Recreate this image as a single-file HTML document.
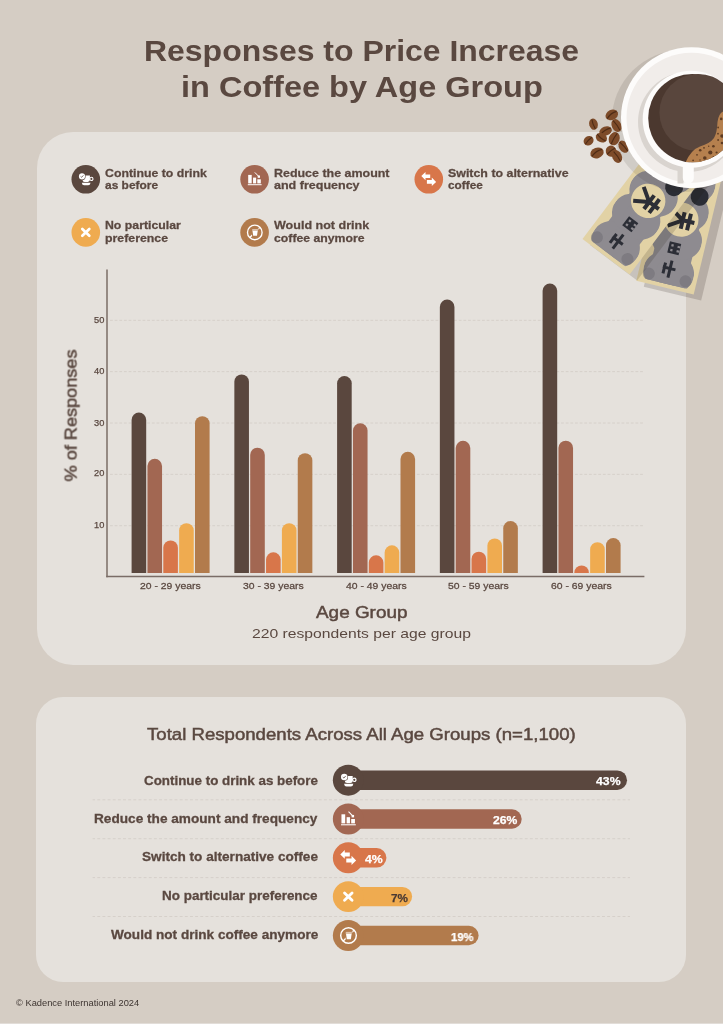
<!DOCTYPE html>
<html><head><meta charset="utf-8"><style>
html,body{margin:0;padding:0;}
body{width:723px;height:1024px;position:relative;overflow:hidden;background:#d5cdc4;font-family:"Liberation Sans",sans-serif;}
.card{position:absolute;background:#e5e1dc;}
.t{position:absolute;white-space:nowrap;line-height:1;transform-origin:0 0;will-change:transform;}
svg{position:absolute;left:0;top:0;}
</style></head><body>
<div class="card" style="left:37px;top:132px;width:649px;height:533px;border-radius:36px;"></div>
<div class="card" style="left:36px;top:697px;width:649.5px;height:285px;border-radius:27px;"></div>
<div style="position:absolute;left:0;top:1023px;width:723px;height:1px;background:#e2ddd8;"></div>
<svg width="723" height="1024" viewBox="0 0 723 1024">
<line x1="110" y1="320.30" x2="644" y2="320.30" stroke="#d6d0ca" stroke-width="1" stroke-dasharray="2.8 1.85"/>
<line x1="110" y1="371.65" x2="644" y2="371.65" stroke="#d6d0ca" stroke-width="1" stroke-dasharray="2.8 1.85"/>
<line x1="110" y1="423.00" x2="644" y2="423.00" stroke="#d6d0ca" stroke-width="1" stroke-dasharray="2.8 1.85"/>
<line x1="110" y1="474.35" x2="644" y2="474.35" stroke="#d6d0ca" stroke-width="1" stroke-dasharray="2.8 1.85"/>
<line x1="110" y1="525.70" x2="644" y2="525.70" stroke="#d6d0ca" stroke-width="1" stroke-dasharray="2.8 1.85"/>
<path d="M131.60,573.1 V419.90 A7.3,7.3 0 0 1 146.20,419.90 V573.1 Z" fill="#5a473e"/>
<path d="M147.45,573.1 V466.10 A7.3,7.3 0 0 1 162.05,466.10 V573.1 Z" fill="#a26752"/>
<path d="M163.30,573.1 V547.70 A7.3,7.3 0 0 1 177.90,547.70 V573.1 Z" fill="#d8764a"/>
<path d="M179.15,573.1 V530.50 A7.3,7.3 0 0 1 193.75,530.50 V573.1 Z" fill="#efab50"/>
<path d="M195.00,573.1 V423.50 A7.3,7.3 0 0 1 209.60,423.50 V573.1 Z" fill="#b27b4c"/>
<path d="M234.35,573.1 V381.70 A7.3,7.3 0 0 1 248.95,381.70 V573.1 Z" fill="#5a473e"/>
<path d="M250.20,573.1 V455.00 A7.3,7.3 0 0 1 264.80,455.00 V573.1 Z" fill="#a26752"/>
<path d="M266.05,573.1 V559.60 A7.3,7.3 0 0 1 280.65,559.60 V573.1 Z" fill="#d8764a"/>
<path d="M281.90,573.1 V530.50 A7.3,7.3 0 0 1 296.50,530.50 V573.1 Z" fill="#efab50"/>
<path d="M297.75,573.1 V460.50 A7.3,7.3 0 0 1 312.35,460.50 V573.1 Z" fill="#b27b4c"/>
<path d="M337.10,573.1 V383.30 A7.3,7.3 0 0 1 351.70,383.30 V573.1 Z" fill="#5a473e"/>
<path d="M352.95,573.1 V430.60 A7.3,7.3 0 0 1 367.55,430.60 V573.1 Z" fill="#a26752"/>
<path d="M368.80,573.1 V562.60 A7.3,7.3 0 0 1 383.40,562.60 V573.1 Z" fill="#d8764a"/>
<path d="M384.65,573.1 V552.60 A7.3,7.3 0 0 1 399.25,552.60 V573.1 Z" fill="#efab50"/>
<path d="M400.50,573.1 V459.10 A7.3,7.3 0 0 1 415.10,459.10 V573.1 Z" fill="#b27b4c"/>
<path d="M439.85,573.1 V306.90 A7.3,7.3 0 0 1 454.45,306.90 V573.1 Z" fill="#5a473e"/>
<path d="M455.70,573.1 V448.10 A7.3,7.3 0 0 1 470.30,448.10 V573.1 Z" fill="#a26752"/>
<path d="M471.55,573.1 V559.00 A7.3,7.3 0 0 1 486.15,559.00 V573.1 Z" fill="#d8764a"/>
<path d="M487.40,573.1 V545.70 A7.3,7.3 0 0 1 502.00,545.70 V573.1 Z" fill="#efab50"/>
<path d="M503.25,573.1 V528.30 A7.3,7.3 0 0 1 517.85,528.30 V573.1 Z" fill="#b27b4c"/>
<path d="M542.60,573.1 V290.80 A7.3,7.3 0 0 1 557.20,290.80 V573.1 Z" fill="#5a473e"/>
<path d="M558.45,573.1 V448.00 A7.3,7.3 0 0 1 573.05,448.00 V573.1 Z" fill="#a26752"/>
<path d="M574.30,573.1 V572.70 A7.3,7.3 0 0 1 588.90,572.70 V573.1 Z" fill="#d8764a"/>
<path d="M590.15,573.1 V549.50 A7.3,7.3 0 0 1 604.75,549.50 V573.1 Z" fill="#efab50"/>
<path d="M606.00,573.1 V545.30 A7.3,7.3 0 0 1 620.60,545.30 V573.1 Z" fill="#b27b4c"/>
<line x1="107" y1="269.5" x2="107" y2="577.3" stroke="#7a6c66" stroke-width="1.5"/>
<line x1="106.25" y1="576.6" x2="644.4" y2="576.6" stroke="#7a6c66" stroke-width="1.5"/>
<circle cx="85.8" cy="179.3" r="14.3" fill="#5a473e"/>
<g transform="translate(85.8,179.3)"><g fill="#fff"><path d="M-3.3,-3.9 H4.1 V0.5 A2.2,2.2 0 0 1 1.9,2.6 H-1.1 A2.2,2.2 0 0 1 -3.3,0.4 Z"/><circle cx="5.6" cy="-0.4" r="1.6" fill="none" stroke="#fff" stroke-width="1.1"/><path d="M-4,3.4 H4.7 Q4.4,6 2.4,6 H-1.7 Q-3.7,6 -4,3.4 Z"/></g><circle cx="-3.8" cy="-2.9" r="3.6" fill="#5a473e"/><circle cx="-3.8" cy="-2.9" r="3.05" fill="#fff"/><path d="M-5.2,-2.9 L-4.1,-2 L-2.4,-4" fill="none" stroke="#5a473e" stroke-width="0.75"/></g>
<circle cx="254.6" cy="179.3" r="14.3" fill="#a26752"/>
<g transform="translate(254.6,179.3)"><g fill="#fff"><rect x="-6.4" y="-4.4" width="3.5" height="8.5"/><rect x="-1.55" y="-1.7" width="3.1" height="5.8"/><rect x="2.7" y="0" width="3.5" height="4.1"/><rect x="-6.8" y="4.9" width="13.8" height="1"/><rect x="3.1" y="-3.8" width="2.3" height="2.3"/></g><path d="M0.2,-6.9 L4.3,-2.7" stroke="#fff" stroke-width="1"/></g>
<circle cx="428.8" cy="179.3" r="14.3" fill="#d8764a"/>
<g transform="translate(428.8,179.3)"><g fill="#fff"><path d="M-7.5,-3.2 L-3.3,-7.2 V-4.9 H1.4 V-1.2 H-3.3 V0.9 Z"/><path d="M7.3,2.6 L3,-1.8 V0.6 H-1.9 V4.5 H3 V6.8 Z"/></g></g>
<circle cx="85.8" cy="232.4" r="14.3" fill="#efab50"/>
<g transform="translate(85.8,232.4)"><path d="M-3.5,-3.4 L3.5,3.4 M3.5,-3.4 L-3.5,3.4" stroke="#fff" stroke-width="2.7" stroke-linecap="round"/></g>
<circle cx="254.6" cy="232.4" r="14.3" fill="#b27b4c"/>
<g transform="translate(254.6,232.4)"><circle cx="0.2" cy="0" r="7.3" fill="none" stroke="#fff" stroke-width="1.35"/><path d="M-5,5.3 L5.3,-5" stroke="#fff" stroke-width="1.3"/><path d="M-2.6,-3.5 H3.4 V-1.2 L2.7,3.6 H-1.8 L-2.6,-1.2 Z" fill="#b27b4c" stroke="#b27b4c" stroke-width="1.1"/><path d="M-2.4,-3.4 H3.3 V-1.4 H-2.4 Z" fill="#fff" opacity="0.55"/><path d="M-2.1,-1.4 H3.1 L2.4,3.4 H-1.4 Z" fill="#fff"/></g>
<line x1="92.6" y1="799.80" x2="630" y2="799.80" stroke="#d6d0ca" stroke-width="1" stroke-dasharray="2.9 2.25" stroke-dashoffset="-4.7"/>
<line x1="92.6" y1="838.70" x2="630" y2="838.70" stroke="#d6d0ca" stroke-width="1" stroke-dasharray="2.9 2.25" stroke-dashoffset="-4.7"/>
<line x1="92.6" y1="877.60" x2="630" y2="877.60" stroke="#d6d0ca" stroke-width="1" stroke-dasharray="2.9 2.25" stroke-dashoffset="-4.7"/>
<line x1="92.6" y1="916.50" x2="630" y2="916.50" stroke="#d6d0ca" stroke-width="1" stroke-dasharray="2.9 2.25" stroke-dashoffset="-4.7"/>
<rect x="348" y="770.50" width="279.00" height="19.4" rx="9.7" fill="#5a473e"/>
<circle cx="348.3" cy="780.2" r="15.45" fill="#5a473e"/>
<g transform="translate(348.3,780.2) scale(1.07)"><g fill="#fff"><path d="M-3.3,-3.9 H4.1 V0.5 A2.2,2.2 0 0 1 1.9,2.6 H-1.1 A2.2,2.2 0 0 1 -3.3,0.4 Z"/><circle cx="5.6" cy="-0.4" r="1.6" fill="none" stroke="#fff" stroke-width="1.1"/><path d="M-4,3.4 H4.7 Q4.4,6 2.4,6 H-1.7 Q-3.7,6 -4,3.4 Z"/></g><circle cx="-3.8" cy="-2.9" r="3.6" fill="#5a473e"/><circle cx="-3.8" cy="-2.9" r="3.05" fill="#fff"/><path d="M-5.2,-2.9 L-4.1,-2 L-2.4,-4" fill="none" stroke="#5a473e" stroke-width="0.75"/></g>
<rect x="348" y="809.30" width="173.70" height="19.4" rx="9.7" fill="#a26752"/>
<circle cx="348.3" cy="819" r="15.45" fill="#a26752"/>
<g transform="translate(348.3,819) scale(1.07)"><g fill="#fff"><rect x="-6.4" y="-4.4" width="3.5" height="8.5"/><rect x="-1.55" y="-1.7" width="3.1" height="5.8"/><rect x="2.7" y="0" width="3.5" height="4.1"/><rect x="-6.8" y="4.9" width="13.8" height="1"/><rect x="3.1" y="-3.8" width="2.3" height="2.3"/></g><path d="M0.2,-6.9 L4.3,-2.7" stroke="#fff" stroke-width="1"/></g>
<rect x="348" y="848.10" width="38.40" height="19.4" rx="9.7" fill="#d8764a"/>
<circle cx="348.3" cy="857.8" r="15.45" fill="#d8764a"/>
<g transform="translate(348.3,857.8) scale(1.07)"><g fill="#fff"><path d="M-7.5,-3.2 L-3.3,-7.2 V-4.9 H1.4 V-1.2 H-3.3 V0.9 Z"/><path d="M7.3,2.6 L3,-1.8 V0.6 H-1.9 V4.5 H3 V6.8 Z"/></g></g>
<rect x="348" y="886.90" width="64.10" height="19.4" rx="9.7" fill="#efab50"/>
<circle cx="348.3" cy="896.6" r="15.45" fill="#efab50"/>
<g transform="translate(348.3,896.6) scale(1.07)"><path d="M-3.5,-3.4 L3.5,3.4 M3.5,-3.4 L-3.5,3.4" stroke="#fff" stroke-width="2.7" stroke-linecap="round"/></g>
<rect x="348" y="925.80" width="130.60" height="19.4" rx="9.7" fill="#b27b4c"/>
<circle cx="348.3" cy="935.5" r="15.45" fill="#b27b4c"/>
<g transform="translate(348.3,935.5) scale(1.07)"><circle cx="0.2" cy="0" r="7.3" fill="none" stroke="#fff" stroke-width="1.35"/><path d="M-5,5.3 L5.3,-5" stroke="#fff" stroke-width="1.3"/><path d="M-2.6,-3.5 H3.4 V-1.2 L2.7,3.6 H-1.8 L-2.6,-1.2 Z" fill="#b27b4c" stroke="#b27b4c" stroke-width="1.1"/><path d="M-2.4,-3.4 H3.3 V-1.4 H-2.4 Z" fill="#fff" opacity="0.55"/><path d="M-2.1,-1.4 H3.1 L2.4,3.4 H-1.4 Z" fill="#fff"/></g>
</svg>
<div class="t" style="left:143.63px;top:36.12px;font-size:29.5px;color:#5a4840;transform:scaleX(1.0832);font-weight:700;-webkit-text-stroke:0.00px #5a4840;">Responses to Price Increase</div>
<div class="t" style="left:180.70px;top:71.52px;font-size:29.5px;color:#5a4840;transform:scaleX(1.1018);font-weight:700;-webkit-text-stroke:0.00px #5a4840;">in Coffee by Age Group</div>
<div class="t" style="left:105.30px;top:166.59px;font-size:11.7px;color:#5a4840;transform:scaleX(1.0515);font-weight:700;-webkit-text-stroke:0.26px #5a4840;">Continue to drink</div>
<div class="t" style="left:105.30px;top:178.89px;font-size:11.7px;color:#5a4840;transform:scaleX(1.0212);font-weight:700;-webkit-text-stroke:0.26px #5a4840;">as before</div>
<div class="t" style="left:274.30px;top:166.59px;font-size:11.7px;color:#5a4840;transform:scaleX(1.0651);font-weight:700;-webkit-text-stroke:0.26px #5a4840;">Reduce the amount</div>
<div class="t" style="left:274.30px;top:178.89px;font-size:11.7px;color:#5a4840;transform:scaleX(1.0712);font-weight:700;-webkit-text-stroke:0.26px #5a4840;">and frequency</div>
<div class="t" style="left:448.40px;top:166.59px;font-size:11.7px;color:#5a4840;transform:scaleX(1.0605);font-weight:700;-webkit-text-stroke:0.26px #5a4840;">Switch to alternative</div>
<div class="t" style="left:448.40px;top:178.89px;font-size:11.7px;color:#5a4840;transform:scaleX(1.0114);font-weight:700;-webkit-text-stroke:0.26px #5a4840;">coffee</div>
<div class="t" style="left:105.00px;top:219.39px;font-size:11.7px;color:#5a4840;transform:scaleX(1.0514);font-weight:700;-webkit-text-stroke:0.26px #5a4840;">No particular</div>
<div class="t" style="left:105.00px;top:232.19px;font-size:11.7px;color:#5a4840;transform:scaleX(1.0550);font-weight:700;-webkit-text-stroke:0.26px #5a4840;">preference</div>
<div class="t" style="left:274.30px;top:219.39px;font-size:11.7px;color:#5a4840;transform:scaleX(1.0719);font-weight:700;-webkit-text-stroke:0.26px #5a4840;">Would not drink</div>
<div class="t" style="left:274.30px;top:232.19px;font-size:11.7px;color:#5a4840;transform:scaleX(1.0483);font-weight:700;-webkit-text-stroke:0.26px #5a4840;">coffee anymore</div>
<div class="t" style="left:93.60px;top:315.98px;font-size:9px;color:#5a4840;transform:scaleX(1.0300);font-weight:400;-webkit-text-stroke:0.25px #5a4840;">50</div>
<div class="t" style="left:93.60px;top:366.98px;font-size:9px;color:#5a4840;transform:scaleX(1.0300);font-weight:400;-webkit-text-stroke:0.25px #5a4840;">40</div>
<div class="t" style="left:93.60px;top:418.98px;font-size:9px;color:#5a4840;transform:scaleX(1.0300);font-weight:400;-webkit-text-stroke:0.25px #5a4840;">30</div>
<div class="t" style="left:93.60px;top:469.38px;font-size:9px;color:#5a4840;transform:scaleX(1.0300);font-weight:400;-webkit-text-stroke:0.25px #5a4840;">20</div>
<div class="t" style="left:93.60px;top:521.38px;font-size:9px;color:#5a4840;transform:scaleX(1.0300);font-weight:400;-webkit-text-stroke:0.25px #5a4840;">10</div>
<div class="t" style="left:140.40px;top:580.97px;font-size:9.6px;color:#5a4840;transform:scaleX(1.0821);font-weight:400;-webkit-text-stroke:0.27px #5a4840;">20 - 29 years</div>
<div class="t" style="left:243.10px;top:580.97px;font-size:9.6px;color:#5a4840;transform:scaleX(1.0821);font-weight:400;-webkit-text-stroke:0.27px #5a4840;">30 - 39 years</div>
<div class="t" style="left:345.60px;top:580.97px;font-size:9.6px;color:#5a4840;transform:scaleX(1.0821);font-weight:400;-webkit-text-stroke:0.27px #5a4840;">40 - 49 years</div>
<div class="t" style="left:447.90px;top:580.97px;font-size:9.6px;color:#5a4840;transform:scaleX(1.0821);font-weight:400;-webkit-text-stroke:0.27px #5a4840;">50 - 59 years</div>
<div class="t" style="left:551.40px;top:580.97px;font-size:9.6px;color:#5a4840;transform:scaleX(1.0821);font-weight:400;-webkit-text-stroke:0.27px #5a4840;">60 - 69 years</div>
<div class="t" style="left:315.90px;top:605.45px;font-size:16px;color:#5a4840;transform:scaleX(1.1818);font-weight:400;-webkit-text-stroke:0.45px #5a4840;">Age Group</div>
<div class="t" style="left:252.40px;top:627.27px;font-size:13.5px;color:#5a4840;transform:scaleX(1.1622);">220 respondents per age group</div>
<div class="t" style="left:147.20px;top:726.20px;font-size:16.3px;color:#5a4840;transform:scaleX(1.1427);font-weight:400;-webkit-text-stroke:0.46px #5a4840;">Total Respondents Across All Age Groups (n=1,100)</div>
<div class="t" style="left:143.80px;top:774.73px;font-size:12.6px;color:#5a4840;transform:scaleX(1.0622);font-weight:700;-webkit-text-stroke:0.28px #5a4840;">Continue to drink as before</div>
<div class="t" style="left:94.00px;top:812.53px;font-size:12.6px;color:#5a4840;transform:scaleX(1.0821);font-weight:700;-webkit-text-stroke:0.28px #5a4840;">Reduce the amount and frequency</div>
<div class="t" style="left:142.10px;top:851.43px;font-size:12.6px;color:#5a4840;transform:scaleX(1.0791);font-weight:700;-webkit-text-stroke:0.28px #5a4840;">Switch to alternative coffee</div>
<div class="t" style="left:162.00px;top:890.23px;font-size:12.6px;color:#5a4840;transform:scaleX(1.0685);font-weight:700;-webkit-text-stroke:0.28px #5a4840;">No particular preference</div>
<div class="t" style="left:110.90px;top:928.83px;font-size:12.6px;color:#5a4840;transform:scaleX(1.0786);font-weight:700;-webkit-text-stroke:0.28px #5a4840;">Would not drink coffee anymore</div>
<div class="t" style="left:596.30px;top:776.26px;font-size:11.5px;color:#ffffff;transform:scaleX(1.0652);font-weight:700;-webkit-text-stroke:0.25px #ffffff;">43%</div>
<div class="t" style="left:492.80px;top:815.06px;font-size:11.5px;color:#ffffff;transform:scaleX(1.0565);font-weight:700;-webkit-text-stroke:0.25px #ffffff;">26%</div>
<div class="t" style="left:364.80px;top:853.86px;font-size:11.5px;color:#ffffff;transform:scaleX(1.0706);font-weight:700;-webkit-text-stroke:0.25px #ffffff;">4%</div>
<div class="t" style="left:390.50px;top:892.66px;font-size:11.5px;color:#4a3a33;transform:scaleX(1.0235);font-weight:700;-webkit-text-stroke:0.25px #4a3a33;">7%</div>
<div class="t" style="left:451.40px;top:931.56px;font-size:11.5px;color:#ffffff;transform:scaleX(0.9783);font-weight:700;-webkit-text-stroke:0.25px #ffffff;">19%</div>
<div class="t" style="left:16.00px;top:998.83px;font-size:9.3px;color:#3d3430;transform:scaleX(1.0000);">© Kadence International 2024</div>
<div class="t" style="left:77.00px;top:466.81px;font-size:17px;color:#5a4840;transform-origin:0 14.394px;transform:rotate(-90deg) scaleX(1.0653);font-weight:400;-webkit-text-stroke:0.48px #5a4840;">% of Responses</div>
<svg width="723" height="1024" viewBox="0 0 723 1024" style="pointer-events:none">
<defs>
 <clipPath id="billclip"><rect x="4" y="4" width="114" height="51"/></clipPath>
 <clipPath id="b1clip"><g transform="translate(582.5,239) rotate(-53)"><rect x="0" y="0" width="125" height="59"/></g></clipPath>
</defs>
<!-- bill shadows -->
<g transform="translate(643.8,286.8) rotate(-76.5)"><rect x="0" y="0" width="125" height="59" fill="rgba(30,20,10,0.17)"/></g>
<!-- bill 2 -->
<g transform="translate(636.3,280.8) rotate(-76.5)">
  <rect x="0" y="0" width="125" height="59" fill="#e2d2a5"/>
  <g fill="#8e8b90" clip-path="url(#billclip)">
   <rect x="0" y="10" width="125" height="39"/>
   <circle cx="16" cy="23" r="19"/><circle cx="16" cy="36" r="19"/>
   <circle cx="50" cy="23" r="19"/><circle cx="50" cy="36" r="19"/>
   <circle cx="79" cy="23" r="19"/><circle cx="79" cy="36" r="19"/>
   <circle cx="108" cy="23" r="19"/><circle cx="108" cy="36" r="19"/>
  </g>
  <circle cx="10" cy="10.5" r="6" fill="#6e6b71" opacity="0.5"/>
  <circle cx="11" cy="48" r="6" fill="#6e6b71" opacity="0.5"/>
  <circle cx="99" cy="16" r="7" fill="#2b2d35"/><circle cx="96.5" cy="42" r="9" fill="#2b2d35"/>
  <circle cx="70" cy="29.5" r="17.2" fill="#e2d2a5"/>
  <g stroke="#2c2e36" stroke-width="4" fill="none" stroke-linecap="butt">
   <path d="M61,17.5 L69.7,31 L78.5,17.5 M69.7,31 V43 M61,31 H78 M61,37.5 H78"/>
  </g>
  <g fill="#2c2e36">
   <rect x="34.8" y="23.5" width="11.4" height="11.6"/>
  </g>
  <g fill="#8e8b90">
   <rect x="36.9" y="25.8" width="2.3" height="2.3"/><rect x="41.8" y="25.8" width="2.3" height="2.3"/>
   <rect x="37.2" y="32.2" width="2.2" height="2.9"/><rect x="41.6" y="32.2" width="2.2" height="2.9"/>
  </g>
  <g stroke="#2c2e36" stroke-width="3" fill="none">
   <path d="M13.5,24.2 H24.5 M10.5,30 H28 M19.8,22.5 V35.5"/>
  </g>
 
</g>
<!-- bill 1 shadow -->
<g transform="translate(590,245) rotate(-53)"><rect x="0" y="0" width="125" height="59" fill="rgba(30,20,10,0.15)"/></g>
<!-- bill 1 -->
<g transform="translate(582.5,239) rotate(-53)">
  <rect x="0" y="0" width="125" height="59" fill="#e2d2a5"/>
  <g fill="#8e8b90" clip-path="url(#billclip)">
   <rect x="0" y="10" width="125" height="39"/>
   <circle cx="16" cy="23" r="19"/><circle cx="16" cy="36" r="19"/>
   <circle cx="50" cy="23" r="19"/><circle cx="50" cy="36" r="19"/>
   <circle cx="79" cy="23" r="19"/><circle cx="79" cy="36" r="19"/>
   <circle cx="108" cy="23" r="19"/><circle cx="108" cy="36" r="19"/>
  </g>
  <circle cx="10" cy="10.5" r="6" fill="#6e6b71" opacity="0.5"/>
  <circle cx="11" cy="48" r="6" fill="#6e6b71" opacity="0.5"/>
  <circle cx="99" cy="16" r="7" fill="#2b2d35"/><circle cx="96.5" cy="42" r="9" fill="#2b2d35"/>
  <circle cx="70" cy="29.5" r="17.2" fill="#e2d2a5"/>
  <g stroke="#2c2e36" stroke-width="4" fill="none" stroke-linecap="butt">
   <path d="M61,17.5 L69.7,31 L78.5,17.5 M69.7,31 V43 M61,31 H78 M61,37.5 H78"/>
  </g>
  <g fill="#2c2e36">
   <rect x="34.8" y="23.5" width="11.4" height="11.6"/>
  </g>
  <g fill="#8e8b90">
   <rect x="36.9" y="25.8" width="2.3" height="2.3"/><rect x="41.8" y="25.8" width="2.3" height="2.3"/>
   <rect x="37.2" y="32.2" width="2.2" height="2.9"/><rect x="41.6" y="32.2" width="2.2" height="2.9"/>
  </g>
  <g stroke="#2c2e36" stroke-width="3" fill="none">
   <path d="M13.5,24.2 H24.5 M10.5,30 H28 M19.8,22.5 V35.5"/>
  </g>
 </g>
<!-- saucer shadow -->
<circle cx="682.7" cy="121" r="71" fill="rgba(50,40,30,0.11)"/>
<!-- beans -->
<g id="beans">
 <g transform="translate(611.8,114.9) rotate(-25)"><ellipse rx="6.5" ry="5" fill="#7d4b29"/><path d="M-5.8,1.5 Q0,-2.5 5.8,-1.2" stroke="#4f2c16" stroke-width="1.15" fill="none"/></g>
 <g transform="translate(593.5,124.2) rotate(-15)"><ellipse rx="4.3" ry="5.7" fill="#7d4b29"/><path d="M-0.3,-5 Q-1,0 0.6,5" stroke="#4f2c16" stroke-width="1.15" fill="none"/></g>
 <g transform="translate(616.5,125.5) rotate(-25)"><ellipse rx="4.7" ry="6.7" fill="#7d4b29"/><path d="M-1,-5.8 Q1,0 1,5.8" stroke="#4f2c16" stroke-width="1.15" fill="none"/></g>
 <g transform="translate(605.6,131.1) rotate(-20)"><ellipse rx="6.5" ry="4.5" fill="#7d4b29"/><path d="M-5.8,1.5 Q0,-2 5.8,-1" stroke="#4f2c16" stroke-width="1.15" fill="none"/></g>
 <g transform="translate(601.4,137.7) rotate(25)"><ellipse rx="5.8" ry="4.6" fill="#7d4b29"/><path d="M-5.2,-1.5 Q0,1.5 5.2,1" stroke="#4f2c16" stroke-width="1.15" fill="none"/></g>
 <g transform="translate(614.2,138.7) rotate(20)"><ellipse rx="5.4" ry="6.8" fill="#7d4b29"/><path d="M1,-6 Q-1,0 -1,6" stroke="#4f2c16" stroke-width="1.15" fill="none"/></g>
 <g transform="translate(588.6,140.8) rotate(-35)"><ellipse rx="5.2" ry="4.6" fill="#7d4b29"/><path d="M-4.7,1 Q0,-1 4.7,-1" stroke="#4f2c16" stroke-width="1.15" fill="none"/></g>
 <g transform="translate(623.5,146.7) rotate(-30)"><ellipse rx="4.5" ry="6.6" fill="#7d4b29"/><path d="M-1,-5.8 Q1,0 1.5,5.8" stroke="#4f2c16" stroke-width="1.15" fill="none"/></g>
 <g transform="translate(597,152.9) rotate(-20)"><ellipse rx="6.8" ry="5.3" fill="#7d4b29"/><path d="M-6,1.5 Q0,-2.5 6,-1.5" stroke="#4f2c16" stroke-width="1.15" fill="none"/></g>
 <g transform="translate(611.1,151.2) rotate(-15)"><ellipse rx="5.4" ry="5.6" fill="#7d4b29"/><path d="M-4.7,2 Q0,-1 4.7,-2" stroke="#4f2c16" stroke-width="1.15" fill="none"/></g>
 <g transform="translate(617,156.5) rotate(-25)"><ellipse rx="4.8" ry="6.7" fill="#7d4b29"/><path d="M-1,-5.8 Q1,0 1,5.8" stroke="#4f2c16" stroke-width="1.15" fill="none"/></g>
</g>
<!-- saucer -->
<circle cx="691.5" cy="117.7" r="70.5" fill="#fdfcfb"/>
<circle cx="691.5" cy="117.7" r="65" fill="#f1edea"/>
<!-- cup shadow -->
<circle cx="688" cy="122" r="50" fill="#d9d4cf"/>
<path d="M677.5,160 h6 v23.5 h-6z" fill="#d9d4cf"/>
<!-- handle -->
<rect x="682.8" y="158" width="11" height="25.5" rx="5.5" fill="#fdfcfb"/>
<!-- cup rim -->
<circle cx="691.2" cy="119.3" r="48.5" fill="#fdfcfb"/>
<!-- coffee -->
<circle cx="692.4" cy="118.1" r="44.2" fill="#4b382f"/>
<circle cx="698" cy="112.5" r="38.6" fill="#59463d"/>
<clipPath id="cc"><circle cx="692.4" cy="118.1" r="44.2"/></clipPath>
<g clip-path="url(#cc)">
 <path d="M684,166 Q690,150 700,146.5 Q710,143.5 714,138 Q717,133 717.5,122 Q718.5,113 724,111 L740,111 L740,170 Z" fill="#b5804e"/>
 <g fill="#5e3b22">
  <circle cx="721.2" cy="118.9" r="1.3"/><circle cx="718.1" cy="127.5" r="0.9"/><circle cx="722" cy="136" r="1.8"/><circle cx="718.1" cy="140" r="0.9"/>
  <circle cx="713.4" cy="146.3" r="1.3"/><circle cx="722" cy="143" r="1.3"/><circle cx="710.3" cy="152.5" r="2.1"/><circle cx="704.8" cy="158" r="1.8"/>
  <circle cx="700.2" cy="150.2" r="1.3"/><circle cx="697" cy="154.8" r="0.9"/><circle cx="693.1" cy="160.3" r="0.9"/><circle cx="704" cy="147.8" r="0.9"/>
  <circle cx="716.6" cy="152.5" r="1.1"/><circle cx="713.4" cy="157" r="0.9"/><circle cx="708.7" cy="146.2" r="0.7"/><circle cx="718" cy="133.7" r="0.9"/>
  <circle cx="689" cy="163" r="0.8"/><circle cx="700" cy="160" r="0.7"/>
 </g>
</g>

</svg>
</body></html>
